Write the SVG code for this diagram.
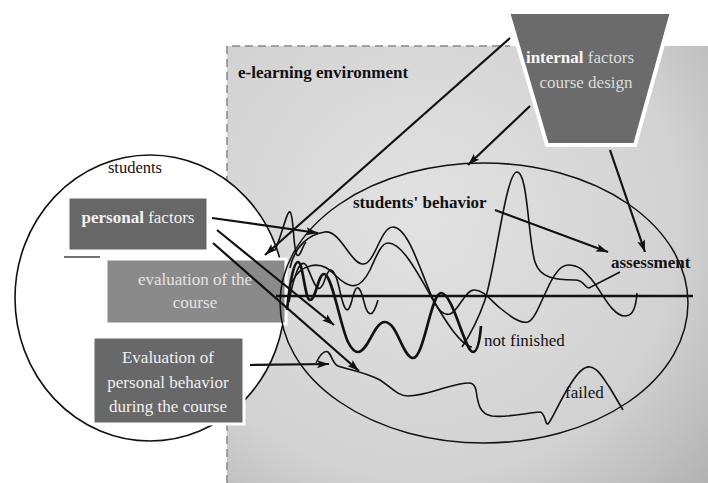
<svg xmlns="http://www.w3.org/2000/svg" width="708" height="483" viewBox="0 0 708 483">
<defs>
<radialGradient id="bg" gradientUnits="userSpaceOnUse" cx="420" cy="220" r="400">
<stop offset="0" stop-color="#e2e2e2"/>
<stop offset="0.65" stop-color="#d2d2d2"/>
<stop offset="1" stop-color="#b0b0b0"/>
</radialGradient>
<marker id="ah" markerWidth="13" markerHeight="10" refX="12" refY="4" orient="auto" markerUnits="userSpaceOnUse">
<path d="M0,0 L12,4 L0,8 L2.5,4 z" fill="#111"/>
</marker>
<style>
.t{font-family:"Liberation Serif",serif;}
.box{stroke:#fff;stroke-width:3;}
.edge{fill:none;stroke:#111;stroke-width:2.2;}
.wave{fill:none;stroke:#111;stroke-width:1.6;}
.thick{fill:none;stroke:#111;stroke-width:2.7;}
.lbl{font-family:"Liberation Serif",serif;font-size:17px;fill:#111;}
</style>
</defs>
<rect width="708" height="483" fill="#fff"/>
<g id="environment">
<rect x="227" y="46" width="481" height="437" fill="url(#bg)"/>
<path d="M227,483 L227,46 L510,46" fill="none" stroke="#888" stroke-width="1.5" stroke-dasharray="8,5"/>
<text class="t" x="238" y="78" font-size="17" font-weight="bold" fill="#111">e-learning environment</text>
</g>
<g id="students">
<ellipse cx="150" cy="298" rx="135" ry="143" fill="#fff" stroke="#111" stroke-width="1.6"/>
<text class="t" x="135" y="173" font-size="16.5" text-anchor="middle" fill="#111">students</text>
</g>
<g id="personal-factors">
<rect x="68" y="197" width="140" height="54" fill="#676767" class="box"/>
<line x1="64" y1="257" x2="100" y2="257" stroke="#444" stroke-width="1.5"/>
<text class="t" x="138" y="223" font-size="17" text-anchor="middle" fill="#f2f2f2"><tspan font-weight="bold">personal</tspan> factors</text>
</g>
<g id="evaluation-course">
<rect x="106" y="259" width="180" height="65" fill="#8a8a8a" class="box"/>
<text class="t" font-size="17" text-anchor="middle" fill="#e4e4e4"><tspan x="195" y="285">evaluation of the</tspan><tspan x="195" y="308">course</tspan></text>
</g>
<g id="evaluation-behavior">
<rect x="93" y="337" width="151" height="87" fill="#686868" class="box"/>
<text class="t" font-size="17" text-anchor="middle" fill="#f0f0f0"><tspan x="168" y="363">Evaluation of</tspan><tspan x="168" y="388">personal behavior</tspan><tspan x="168" y="412">during the course</tspan></text>
</g>
<g id="internal-factors">
<polygon points="508,12 672,12 635,145 547,145" fill="#6b6b6b" stroke="#fff" stroke-width="4"/>
<text class="t" x="580" y="63" font-size="17" text-anchor="middle" fill="#dcdcdc"><tspan font-weight="bold" fill="#f6f6f6">internal</tspan> factors</text>
<text class="t" x="586" y="88" font-size="17" text-anchor="middle" fill="#dcdcdc">course design</text>
</g>
<g id="behavior">
<ellipse cx="484" cy="303" rx="204" ry="140" fill="none" stroke="#111" stroke-width="1.5"/>
<line x1="276" y1="296" x2="693" y2="296" stroke="#111" stroke-width="2.5"/>
<path class="wave" d="M275,250 C282,235 287,210 290,212 C294,215 293,250 297,255 C300,258 303,245 306,242"/>
<path class="wave" d="M290,268 C295,245 310,234 325,232 C340,230 350,262 362,264 C375,266 380,227 393,227 C408,227 420,270 432,297 C438,310 443,316 450,314 C458,312 465,290 474,290 C484,290 490,300 500,308 C510,316 520,324 528,322 C540,318 550,265 568,265 C580,265 585,272 592,280 C602,292 612,316 625,316 C634,316 636,305 637,293"/>
<path class="wave" d="M292,282 C300,265 320,258 335,275 C350,290 360,290 370,270 C378,252 382,243 388,243 C400,243 412,262 433,300 C445,320 460,345 472,347"/>
<path class="wave" d="M289,302 C294,275 300,258 306,265 C312,275 317,300 324,282 C329,265 334,266 339,287 C343,306 347,320 352,300 C356,282 360,285 364,302 C368,318 373,318 378,300"/>
<path class="thick" d="M287,310 C290,280 294,262 298,262 C303,262 305,300 310,300 C316,300 318,274 324,274 C332,274 340,325 348,342 C352,350 355,352 358,352 C368,352 374,322 385,322 C397,322 403,358 413,358 C424,358 431,293 441,293 C453,293 465,352 473,352 C478,352 480,338 481,326"/>
<path class="wave" d="M462,347 C470,335 478,320 485,300 C496,265 506,172 517,172 C528,172 528,240 535,262 C540,278 555,280 575,280 C584,280 585,288 589,288 L620,272"/>
<path class="wave" d="M316,363 C320,355 324,350 328,352 C332,355 332,363 338,366 C350,370 365,372 380,380 C392,388 398,396 408,396 C425,396 440,388 460,384 C470,382 474,382 476,390 C478,405 480,414 492,416 C510,418 530,412 540,412 C545,412 545,425 548,424 C552,420 560,400 570,385 C578,372 584,366 590,367 C598,368 603,378 610,388 L623,410"/>
<text class="lbl" x="353" y="208" font-weight="bold">students' behavior</text>
<text class="lbl" x="611" y="268" font-weight="bold">assessment</text>
<text class="lbl" x="484" y="346">not finished</text>
<text class="lbl" x="565" y="398">failed</text>
</g>
<g id="connectors">
<line class="edge" x1="510" y1="38" x2="265" y2="255" marker-end="url(#ah)"/>
<line class="edge" x1="530" y1="106" x2="468" y2="165" marker-end="url(#ah)"/>
<line class="edge" x1="610" y1="150" x2="645" y2="252" marker-end="url(#ah)"/>
<line class="edge" x1="495" y1="210" x2="608" y2="252" marker-end="url(#ah)"/>
<line class="edge" x1="212" y1="218" x2="318" y2="233" marker-end="url(#ah)"/>
<line class="edge" x1="217" y1="230" x2="334" y2="325" marker-end="url(#ah)"/>
<line class="edge" x1="213" y1="243" x2="359" y2="371" marker-end="url(#ah)"/>
<line class="edge" x1="250" y1="365" x2="329" y2="364" marker-end="url(#ah)"/>
</g>
</svg>
